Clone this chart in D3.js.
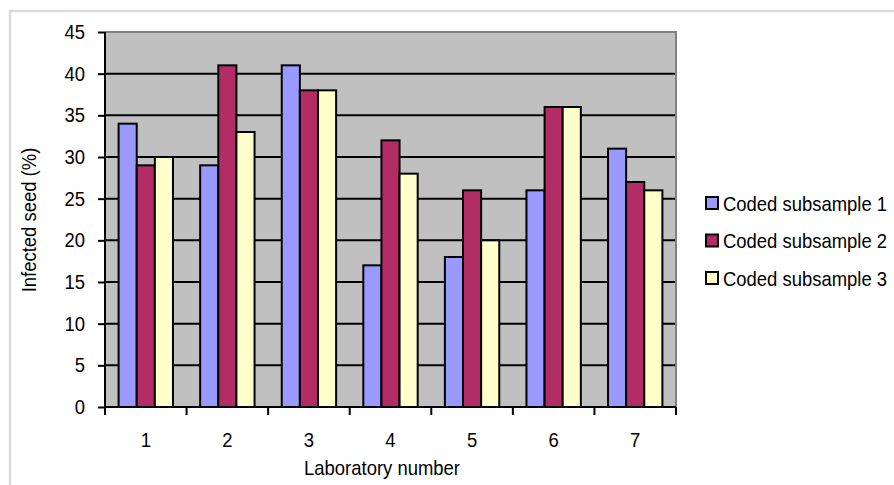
<!DOCTYPE html>
<html><head><meta charset="utf-8">
<script src="https://cdn.jsdelivr.net/npm/d3@7"></script>
<style>body{margin:0;background:#fff}svg{display:block}text{font-family:"Liberation Sans",Arial,sans-serif;fill:#000}</style>
</head><body>
<svg id="c" width="894" height="485"></svg>
<script>
const categories = ["1","2","3","4","5","6","7"];
const seriesNames = ["Coded subsample 1","Coded subsample 2","Coded subsample 3"];
const sub1 = [34,29,41,17,18,26,31];
const sub2 = [29,41,38,32,26,36,27];
const sub3 = [30,33,38,28,20,36,26];
const yTicks = [0,5,10,15,20,25,30,35,40,45];
const colors = ["#9999FF","#B22D66","#FFFFCC"];

const series = [sub1,sub2,sub3];
const svg = d3.select("#c");
const L=105,R=676,T=32,B=407;
const FS = "20.5px", SX = 0.9;
svg.append("rect").attr("x",10).attr("y",11).attr("width",900).attr("height",490)
  .attr("fill","none").attr("stroke","#dcdcdc").attr("stroke-width",2.5);

const x = d3.scaleBand().domain(categories).range([L,R]);
const y = d3.scaleLinear().domain([0,45]).range([B,T]);
const bw = x.bandwidth()/4.5; // gap width 150%

svg.append("rect").attr("x",L).attr("y",T).attr("width",R-L).attr("height",B-T).attr("fill","#C0C0C0");
svg.append("g").selectAll("line").data(yTicks.filter(d=>d>0&&d<45)).join("line")
  .attr("x1",L).attr("x2",R).attr("y1",d=>y(d)).attr("y2",d=>y(d))
  .attr("stroke","#000").attr("stroke-width",2);
svg.append("path").attr("d",`M${L},${T}H${R}V${B}`).attr("fill","none").attr("stroke","#808080").attr("stroke-width",2);

series.forEach((s,i)=>{
  svg.append("g").selectAll("rect").data(s).join("rect")
    .attr("x",(d,j)=>x(categories[j])+0.75*bw+i*bw)
    .attr("y",d=>y(d)).attr("width",bw).attr("height",d=>B-y(d))
    .attr("fill",colors[i]).attr("stroke","#000").attr("stroke-width",2);
});

// y axis
const ya = svg.append("g").attr("transform",`translate(${L},0)`)
  .call(d3.axisLeft(y).tickValues(yTicks).tickSize(7).tickFormat(""));
ya.select(".domain").attr("stroke","#000").attr("stroke-width",2).attr("d",`M0,${B}V${T}`);
ya.selectAll(".tick line").attr("stroke","#000").attr("stroke-width",2);
svg.append("g").selectAll("text").data(yTicks).join("text")
  .attr("transform",d=>`translate(85,${y(d)+7}) scale(${SX},1)`)
  .attr("text-anchor","end").style("font-size",FS).text(d=>d);

// x axis
const xa = svg.append("g").attr("transform",`translate(0,${B})`)
  .call(d3.axisBottom(x).tickSize(0).tickFormat(""));
xa.select(".domain").attr("stroke","#000").attr("stroke-width",2).attr("d",`M${L},0H${R}`);
svg.append("g").selectAll("line").data(categories.concat(["end"])).join("line")
  .attr("x1",(d,j)=>L+j*x.bandwidth()).attr("x2",(d,j)=>L+j*x.bandwidth())
  .attr("y1",B).attr("y2",B+8).attr("stroke","#000").attr("stroke-width",2);
svg.append("g").selectAll("text").data(categories).join("text")
  .attr("transform",d=>`translate(${x(d)+x.bandwidth()/2},447) scale(${SX},1)`)
  .attr("text-anchor","middle").style("font-size",FS).text(d=>d);

// titles
svg.append("text").attr("transform",`translate(382,475) scale(${SX},1)`).attr("text-anchor","middle").style("font-size",FS).text("Laboratory number");
svg.append("text").attr("transform",`translate(36,220) rotate(-90) scale(${SX},1)`).attr("text-anchor","middle").style("font-size",FS).text("Infected seed (%)");

// legend
const lg = svg.append("g").selectAll("g").data(seriesNames).join("g")
  .attr("transform",(d,i)=>`translate(706,${203+i*37.5})`);
lg.append("rect").attr("x",0).attr("y",-6).attr("width",12).attr("height",12)
  .attr("fill",(d,i)=>colors[i]).attr("stroke","#000").attr("stroke-width",2);
lg.append("text").attr("transform",`translate(17,7.5) scale(${SX},1)`).style("font-size",FS).text(d=>d);
</script>
</body></html>
